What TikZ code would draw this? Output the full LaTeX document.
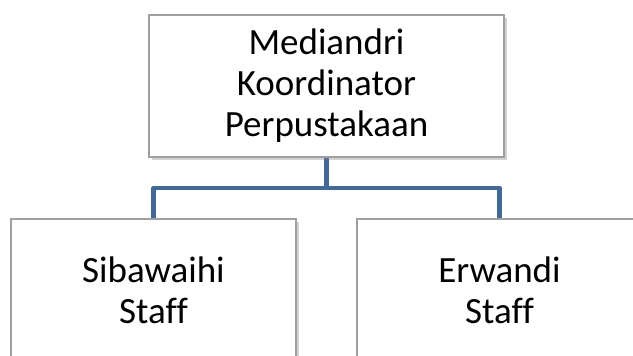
\documentclass[tikz,border=0pt]{standalone}
\usepackage{fontspec}
\setmainfont{Carlito}[Ligatures={NoCommon}]
\usetikzlibrary{shadows}
\definecolor{linkblue}{HTML}{41699B}
\definecolor{boxgray}{HTML}{A0A0A0}
\tikzset{
  orgbox/.style={draw=boxgray, line width=1.3pt, fill=white, inner sep=0pt, outer sep=0pt,
    align=center, font=\fontsize{37}{41}\selectfont,
    drop shadow={shadow xshift=2.5pt, shadow yshift=-2.5pt, opacity=0.35, fill=gray}},
  link/.style={draw=linkblue, line width=4.5pt, line join=round}
}
\begin{document}
\begin{tikzpicture}[x=1pt,y=-1pt]
\useasboundingbox (0,0) rectangle (633,356);
\clip (0,0) rectangle (633,356);
\fill[white] (0,0) rectangle (633,356);
\coordinate (top) at (326.5,86);
\coordinate (jn) at (326.5,188);
\coordinate (lft) at (153.5,290);
\coordinate (rgt) at (499.5,290);
\draw[link] (top) -- (jn) -| (lft);
\draw[link] (jn) -| (rgt);
\node[orgbox, minimum width=355pt, minimum height=142pt] (coord) at (top) {Mediandri\\Koordinator\\Perpustakaan};
\node[orgbox, minimum width=285pt, minimum height=142pt] (staffa) at (lft) {Sibawaihi\\Staff};
\node[orgbox, minimum width=285pt, minimum height=142pt] (staffb) at (rgt) {Erwandi\\Staff};
\end{tikzpicture}
\end{document}
